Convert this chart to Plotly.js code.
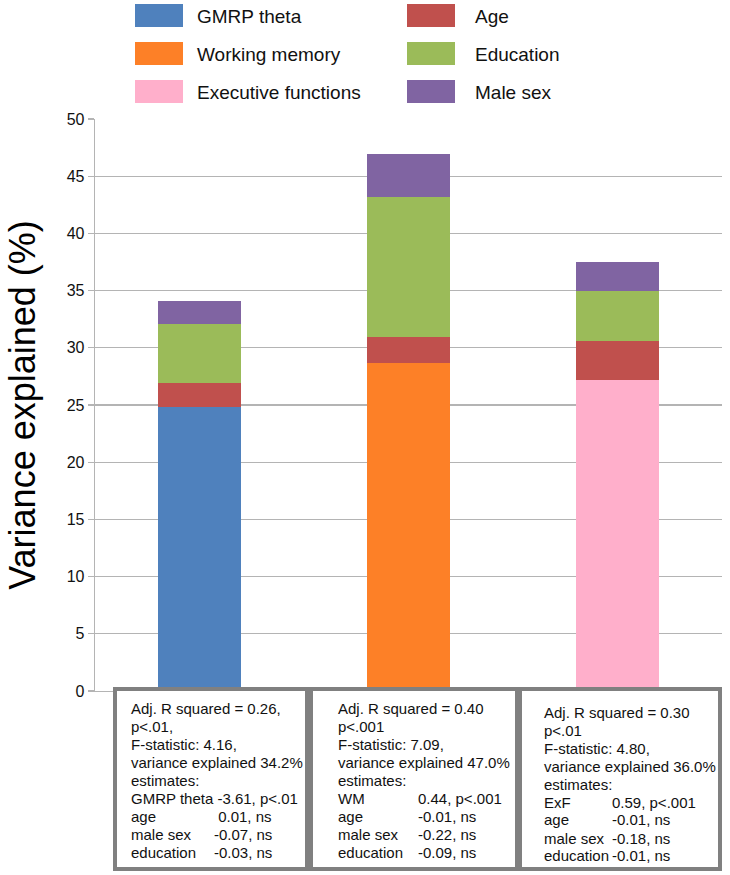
<!DOCTYPE html>
<html>
<head>
<meta charset="utf-8">
<script src="https://cdn.plot.ly/plotly-3.0.1.min.js"></script>
<style>
  html, body { margin: 0; padding: 0; background: #ffffff; }
  #chart { width: 730px; height: 875px; }
</style>
</head>
<body>
<div id="chart"></div>
<script>
// ---------------- DATA ----------------
const categories = ['GMRP theta model', 'Working memory model', 'Executive functions model'];
const gmrpTheta = [24.8, null, null];
const workingMemory = [null, 28.65, null];
const executiveFunctions = [null, null, 27.2];
const age = [2.1, 2.3, 3.4];
const education = [5.2, 12.25, 4.4];
const maleSex = [2.0, 3.7, 2.5];
const yTickValues = [0, 5, 10, 15, 20, 25, 30, 35, 40, 45, 50];
const yTitle = 'Variance explained (%)';

const seriesNames = ['GMRP theta', 'Working memory', 'Executive functions', 'Age', 'Education', 'Male sex'];
const seriesValues = [gmrpTheta, workingMemory, executiveFunctions, age, education, maleSex];

// statistics boxes: [label, value] per line
const box1Lines = [
  ['Adj. R squared = 0.26,'], ['p<.01,'], ['F-statistic: 4.16,'], ['variance explained 34.2%'],
  ['estimates:'], ['GMRP theta -3.61, p<.01'], ['age', '\u00a00.01, ns'], ['male sex', '-0.07, ns'], ['education', '-0.03, ns']
];
const box2Lines = [
  ['Adj. R squared = 0.40'], ['p<.001'], ['F-statistic: 7.09,'], ['variance explained 47.0%'],
  ['estimates:'], ['WM', '0.44, p<.001'], ['age', '-0.01, ns'], ['male sex', '-0.22, ns'], ['education', '-0.09, ns']
];
const box3Lines = [
  ['Adj. R squared = 0.30'], ['p<.01'], ['F-statistic: 4.80,'], ['variance explained 36.0%'],
  ['estimates:'], ['ExF', '0.59, p<.001'], ['age', '-0.01, ns'], ['male sex', '-0.18, ns'], ['education', '-0.01, ns']
];
const boxLines = [box1Lines, box2Lines, box3Lines];

// ---------------- STYLE ----------------
const seriesColors = ['#4F81BD', '#FD8027', '#FFAFCB', '#C0504D', '#9BBB59', '#8064A2'];
const FONT = 'Arial, "Liberation Sans", sans-serif';
const TEXT = '#111111';
const GRID = '#b4b4b4';

const W = 730, H = 875;
const M = { l: 95, r: 8, t: 119, b: 184 };
const PW = W - M.l - M.r, PH = H - M.t - M.b;
const px = x => (x - M.l) / PW;
const py = y => (H - M.b - y) / PH;

const traces = seriesNames.map((name, i) => ({
  type: 'bar',
  name: name,
  x: categories,
  y: seriesValues[i],
  width: 0.4,
  marker: { color: seriesColors[i], line: { width: 0 } },
  showlegend: false,
  hoverinfo: 'name+y'
}));

const shapes = [];
const annotations = [];

// custom legend (two columns, three rows)
const legCols = [{ sw: 135, tx: 195 }, { sw: 407, tx: 473 }];
const legRows = [15.5, 53.5, 91.5];
seriesNames.forEach((name, i) => {
  const c = legCols[Math.floor(i / 3)];
  const r = legRows[i % 3];
  shapes.push({
    type: 'rect', xref: 'paper', yref: 'paper', layer: 'above',
    x0: px(c.sw), x1: px(c.sw + 48), y0: py(r + 11.5), y1: py(r - 11.5),
    fillcolor: seriesColors[i], line: { width: 0 }
  });
  annotations.push({
    xref: 'paper', yref: 'paper', x: px(c.tx), y: py(r + 1), xanchor: 'left', yanchor: 'middle',
    text: name, showarrow: false, font: { family: FONT, size: 19, color: TEXT }
  });
});

// statistics boxes
const boxes = [
  { x0: 115, x1: 307, tx: 129, vx: 212, y0: 708 },
  { x0: 311, x1: 517, tx: 336, vx: 416, y0: 708 },
  { x0: 520, x1: 720, tx: 542, vx: 610, y0: 712 }
];
boxes.forEach((b, bi) => {
  shapes.push({
    type: 'rect', xref: 'paper', yref: 'paper', layer: 'above',
    x0: px(b.x0), x1: px(b.x1), y0: py(869), y1: py(689),
    fillcolor: '#ffffff', line: { color: '#808080', width: 4 }
  });
  boxLines[bi].forEach((ln, j) => {
    const yy = b.y0 + 18 * j;
    annotations.push({
      xref: 'paper', yref: 'paper', x: px(b.tx), y: py(yy), xanchor: 'left', yanchor: 'middle',
      text: ln[0], showarrow: false, font: { family: FONT, size: 15, color: TEXT }
    });
    if (ln.length > 1) {
      annotations.push({
        xref: 'paper', yref: 'paper', x: px(b.vx), y: py(yy), xanchor: 'left', yanchor: 'middle',
        text: ln[1], showarrow: false, font: { family: FONT, size: 15, color: TEXT }
      });
    }
  });
});

const layout = {
  width: W, height: H,
  margin: M,
  paper_bgcolor: '#ffffff', plot_bgcolor: '#ffffff',
  barmode: 'stack',
  showlegend: false,
  font: { family: FONT, color: TEXT },
  xaxis: {
    type: 'category',
    showticklabels: false,
    showgrid: false,
    zeroline: false,
    showline: true, linecolor: GRID, linewidth: 1.3,
    ticks: '',
    fixedrange: true
  },
  yaxis: {
    range: [0, 50],
    tickvals: yTickValues,
    ticktext: yTickValues.map(String),
    showgrid: true, gridcolor: GRID, gridwidth: 1.3,
    zeroline: false,
    showline: true, linecolor: GRID, linewidth: 1.3,
    ticks: 'outside', ticklen: 6, tickcolor: GRID, tickwidth: 1.3,
    tickfont: { family: FONT, size: 16, color: TEXT },
    title: { text: yTitle, font: { family: FONT, size: 36, color: '#000000' }, standoff: 20 },
    fixedrange: true
  },
  shapes: shapes,
  annotations: annotations
};

Plotly.newPlot('chart', traces, layout, { displayModeBar: false, staticPlot: true });
</script>
</body>
</html>
